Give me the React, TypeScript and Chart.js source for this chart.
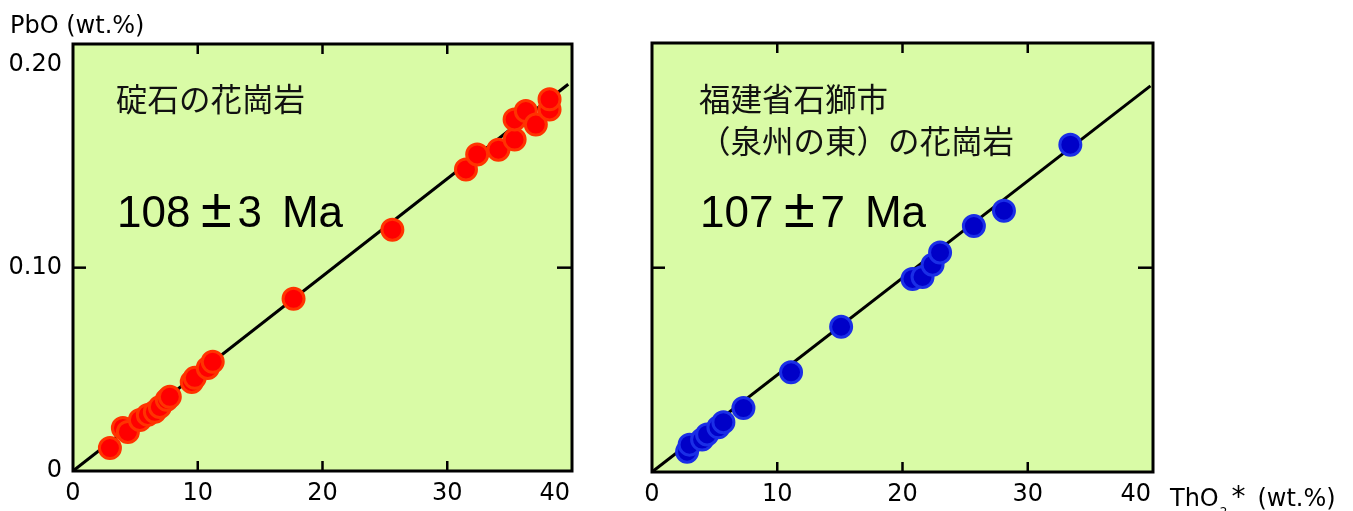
import React, { useEffect, useRef } from 'react';
import { Chart, registerables } from 'chart.js';
Chart.register(...registerables);

// ---- data ----
const xTickValues = [0, 10, 20, 30, 40];
const xTickLabels = ['0', '10', '20', '30', '40'];
const yTickValues = [0, 0.1, 0.2];
const yTickLabels = ['0', '0.10', '0.20'];
const innerXTicks = [10, 20, 30];
const innerYTicks = [0.1];

const redThO2 = [2.96, 4.0, 4.4, 5.36, 6.0, 6.56, 6.96, 7.52, 7.76, 9.52, 9.76, 10.8, 11.2, 17.68, 25.6, 31.5, 32.4, 34.1, 35.4, 35.4, 36.3, 37.1, 38.2, 38.2];
const redPbO = [0.0113, 0.0212, 0.0192, 0.0251, 0.0276, 0.0291, 0.0315, 0.035, 0.0365, 0.0438, 0.0458, 0.0507, 0.0537, 0.0847, 0.1187, 0.1483, 0.1557, 0.158, 0.163, 0.1729, 0.177, 0.1704, 0.1778, 0.1828];

const blueThO2 = [2.8, 3.0, 4.0, 4.4, 5.3, 5.7, 7.3, 11.1, 15.1, 20.8, 21.6, 22.4, 23.0, 25.7, 28.1, 33.4];
const bluePbO = [0.00995, 0.0134, 0.0159, 0.0184, 0.0219, 0.0244, 0.0313, 0.0488, 0.0711, 0.0945, 0.0955, 0.1015, 0.1075, 0.1204, 0.1279, 0.1602];

const fitLeftThO2 = [0, 39.7];
const fitLeftPbO = [0, 0.1902];
const fitRightThO2 = [0, 39.8];
const fitRightPbO = [0, 0.1890];

const leftTitle = '碇石の花崗岩';
const leftAge = ['108', '±', '3', 'Ma'];
const rightTitle1 = '福建省石獅市';
const rightTitle2 = '（泉州の東）の花崗岩';
const rightAge = ['107', '±', '7', 'Ma'];

const BG = '#d9fba6';
const TICK_FONT = { family: 'DejaVu Sans', size: 24 };

const framePlugin = {
  id: 'frame',
  beforeDraw(chart: any) {
    const { ctx, chartArea: a } = chart;
    ctx.save();
    ctx.fillStyle = BG;
    ctx.fillRect(a.left, a.top, a.right - a.left, a.bottom - a.top);
    ctx.restore();
  },
  afterDraw(chart: any) {
    const { ctx, chartArea: a, scales } = chart;
    ctx.save();
    ctx.strokeStyle = '#000';
    ctx.lineWidth = 3;
    ctx.strokeRect(a.left, a.top, a.right - a.left, a.bottom - a.top);
    ctx.lineWidth = 2.5;
    const seg = (x1: number, y1: number, x2: number, y2: number) => {
      ctx.beginPath();
      ctx.moveTo(x1, y1);
      ctx.lineTo(x2, y2);
      ctx.stroke();
    };
    innerXTicks.forEach((v) => {
      const x = scales.x.getPixelForValue(v);
      seg(x, a.bottom, x, a.bottom - 10);
      seg(x, a.top, x, a.top + 10);
    });
    innerYTicks.forEach((v) => {
      const y = scales.y.getPixelForValue(v);
      seg(a.left, y, a.left + 13, y);
      seg(a.right, y, a.right - 15, y);
    });
    // x tick labels (last one kept inside the frame, as in the original)
    ctx.fillStyle = '#000';
    ctx.font = `${TICK_FONT.size}px "${TICK_FONT.family}"`;
    ctx.textBaseline = 'middle';
    xTickValues.forEach((v, i) => {
      const x = scales.x.getPixelForValue(v);
      const last = i === xTickValues.length - 1;
      ctx.textAlign = last ? 'right' : 'center';
      ctx.fillText(xTickLabels[i], last ? x - 2 : x, a.bottom + 23);
    });
    ctx.restore();
  },
};

function makeConfig(o: {
  xs: number[]; ys: number[]; fx: number[]; fy: number[];
  fill: string; border: string; yLabels: boolean;
  padTop: number; padRight: number; yWidth: number; xHeight: number;
}) {
  return {
    type: 'scatter' as const,
    data: {
      datasets: [
        {
          data: o.xs.map((x, i) => ({ x, y: o.ys[i] })),
          backgroundColor: o.fill,
          borderColor: o.border,
          borderWidth: 3,
          pointRadius: 10.5,
          pointStyle: 'circle',
          order: 0,
        },
        {
          data: o.fx.map((x, i) => ({ x, y: o.fy[i] })),
          showLine: true,
          borderColor: '#000',
          borderWidth: 3,
          pointRadius: 0,
          order: 1,
        },
      ],
    },
    options: {
      responsive: false,
      animation: false,
      layout: { padding: { top: o.padTop, right: o.padRight, left: 0, bottom: 0 } },
      plugins: { legend: { display: false }, tooltip: { enabled: false } },
      scales: {
        x: {
          type: 'linear',
          min: 0,
          max: 40,
          grid: { display: false, drawTicks: false },
          border: { display: false },
          afterBuildTicks: (s: any) => { s.ticks = xTickValues.map((v) => ({ value: v })); },
          afterFit: (s: any) => { s.height = o.xHeight; },
          ticks: { display: false },
        },
        y: {
          type: 'linear',
          min: 0,
          max: 0.21,
          grid: { display: false, drawTicks: false },
          border: { display: false },
          afterBuildTicks: (s: any) => { s.ticks = yTickValues.map((v) => ({ value: v })); },
          afterFit: (s: any) => { s.width = o.yWidth; },
          ticks: {
            display: o.yLabels,
            color: '#000',
            font: TICK_FONT,
            padding: 11,
            callback: (_v: any, i: number) => yTickLabels[i],
          },
        },
      },
    },
    plugins: [framePlugin],
  };
}

function ChartCanvas(props: { width: number; height: number; left: number; config: any }) {
  const ref = useRef<HTMLCanvasElement | null>(null);
  useEffect(() => {
    if (!ref.current) return;
    const c = new Chart(ref.current, props.config);
    return () => c.destroy();
  }, []);
  return (
    <canvas
      ref={ref}
      width={props.width}
      height={props.height}
      style={{ position: 'absolute', left: props.left, top: 0, width: props.width, height: props.height, display: 'block' }}
    />
  );
}

const jpStyle: React.CSSProperties = {
  position: 'absolute',
  fontFamily: '"Noto Sans CJK JP", sans-serif',
  fontSize: 31.5,
  lineHeight: 1,
  whiteSpace: 'nowrap',
  color: '#111',
};
const ageStyle: React.CSSProperties = {
  position: 'absolute',
  fontFamily: '"Liberation Sans", Arial, sans-serif',
  fontSize: 44,
  lineHeight: '44px',
  whiteSpace: 'nowrap',
  color: '#000',
};
const axisStyle: React.CSSProperties = {
  position: 'absolute',
  fontFamily: '"DejaVu Sans", sans-serif',
  fontSize: 24,
  lineHeight: 1,
  whiteSpace: 'nowrap',
  color: '#000',
};

function Age(props: { parts: string[]; left: number; top: number }) {
  return (
    <div style={{ ...ageStyle, left: props.left, top: props.top }}>
      {props.parts[0]}
      <span style={{ display: 'inline-block', width: 36, textAlign: 'center', margin: '0 3px 0 8px', fontSize: 56, lineHeight: '44px' }}>{props.parts[1]}</span>
      {props.parts[2]}
      <span style={{ marginLeft: 20 }}>{props.parts[3]}</span>
    </div>
  );
}

export default function App() {
  const leftCfg = makeConfig({
    xs: redThO2, ys: redPbO, fx: fitLeftThO2, fy: fitLeftPbO,
    fill: '#ff0000', border: '#ff3300', yLabels: true,
    padTop: 44, padRight: 28, yWidth: 73, xHeight: 40,
  });
  const rightCfg = makeConfig({
    xs: blueThO2, ys: bluePbO, fx: fitRightThO2, fy: fitRightPbO,
    fill: '#0000c8', border: '#1a2ee6', yLabels: false,
    padTop: 43, padRight: 200, yWidth: 52, xHeight: 39,
  });
  return (
    <div style={{ position: 'fixed', left: 0, top: 0, width: 1353, height: 511, background: '#fff', overflow: 'hidden' }}>
      <ChartCanvas width={600} height={511} left={0} config={leftCfg} />
      <ChartCanvas width={753} height={511} left={600} config={rightCfg} />
      <div style={{ ...axisStyle, left: 10, top: 13 }}>PbO (wt.%)</div>
      <div style={{ ...axisStyle, left: 1170, top: 483 }}>
        ThO<span style={{ fontSize: 12, position: 'relative', top: 10, marginLeft: 1 }}>2</span>
        <span style={{ marginLeft: 4, fontSize: 28 }}>*</span>
        <span style={{ marginLeft: 12 }}>(wt.%)</span>
      </div>
      <div style={{ ...jpStyle, left: 116, top: 82 }}>{leftTitle}</div>
      <Age parts={leftAge} left={117} top={186} />
      <div style={{ ...jpStyle, left: 699, top: 82 }}>{rightTitle1}</div>
      <div style={{ ...jpStyle, left: 699, top: 124 }}>{rightTitle2}</div>
      <Age parts={rightAge} left={700} top={186} />
    </div>
  );
}
